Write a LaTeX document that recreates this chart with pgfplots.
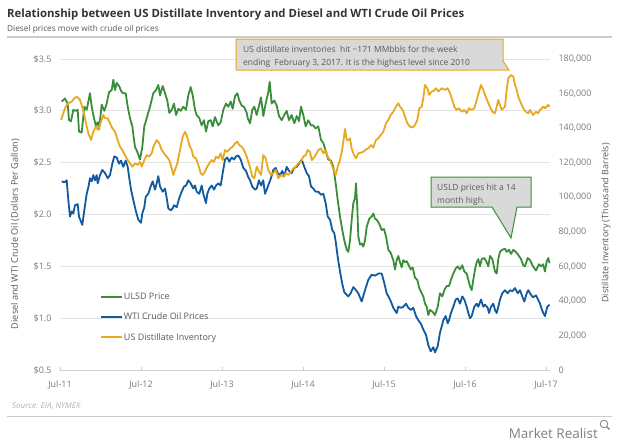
\documentclass[border=0pt]{standalone}
\usepackage{pgfplots}
\pgfplotsset{compat=1.18}
\usepackage{fontspec}
\setmainfont{Open Sans}
\definecolor{ulsd}{HTML}{3A8E3A}
\definecolor{wti}{HTML}{115AA0}
\definecolor{inv}{HTML}{E8A820}
\definecolor{boxgray}{HTML}{D9D9D9}
\definecolor{txtgray}{HTML}{595959}
\definecolor{tickgray}{HTML}{7A7A7A}
\definecolor{gridgray}{HTML}{E4E4E4}

\pgfplotstableread{
x y
61.7 3.09
65 3.12
67.7 3.07
69 2.91
71 2.90
73.3 3.01
75.7 3.00
77.7 3.01
79 2.80
81.7 2.79
84.3 3.04
86.7 3.01
90 3.17
91.7 3.04
93.3 2.96
95.7 2.86
97.7 2.89
99 2.82
101.7 3.06
104.3 3.00
106.7 3.07
109 3.18
111.7 3.20
113.3 3.30
115 3.20
116.7 3.27
119 3.24
121.7 3.18
123.3 3.17
125.7 3.17
127.7 3.04
130 2.93
132.3 2.85
135 2.65
136.7 2.62
140 2.53
142.3 2.65
144.3 2.85
146.7 2.93
150 3.04
153.3 3.17
156 3.20
158.3 3.25
160 3.15
162.7 3.24
165 3.17
167.3 3.10
169.3 2.98
171.7 3.01
174 3.07
176 2.96
178.3 3.02
180.7 3.00
183.3 3.04
186 3.01
188.3 3.15
190.7 3.23
192.7 3.15
195 3.01
196.7 2.96
199.3 2.93
201.7 2.86
204 2.91
206 2.80
208.3 2.90
210.7 2.91
212.7 2.85
215 2.94
218.3 2.86
220.7 2.89
223.3 3.01
226 3.07
228.3 3.04
230.7 3.09
232.7 3.02
235 3.14
237.3 3.17
239.3 3.10
241.7 3.05
244 3.04
246.7 2.98
247.7 2.93
250 2.88
252.3 3.01
254.3 3.04
256.7 2.96
259 3.05
261 3.13
263.3 2.95
265.7 3.07
268.3 3.18
269.7 3.28
271.7 3.07
274.3 3.10
276.7 3.05
279 2.95
281.7 2.91
284.3 2.96
286.7 3.00
289 2.91
291.7 2.96
294.3 2.88
296.7 2.95
299 2.90
301 3.04
303.3 2.96
305.7 2.85
308.3 2.91
311 2.86
313.3 2.86
315.7 2.83
318.3 2.85
321 2.72
323.3 2.69
325.7 2.61
328.3 2.53
331 2.52
333.3 2.46
335.7 2.30
337.7 2.14
340 1.98
342.3 1.85
344.3 1.75
346.7 1.66
348.3 1.64
350 1.75
351.7 1.95
353.3 2.11
355 2.16
356 2.30
357.3 2.07
358.3 1.79
360 1.71
361.7 1.72
363.3 1.69
365 1.75
366.7 1.88
369.3 1.96
371.7 1.98
373.3 2.01
375 1.96
376.7 1.95
379.3 1.91
381.7 1.85
384 1.86
386 1.79
388.3 1.66
390.7 1.63
393.3 1.56
395 1.47
396.7 1.56
398.3 1.60
400 1.54
401.7 1.49
403.3 1.56
405 1.54
406.7 1.55
409.3 1.50
410.7 1.47
412.7 1.49
415 1.39
417.3 1.37
419.3 1.29
421.7 1.24
423.3 1.21
425 1.14
426.7 1.11
428.3 1.03
430 1.08
432.7 1.06
435 1.03
437.7 1.11
440 1.24
442.3 1.21
444.3 1.27
446.7 1.31
449 1.31
451 1.37
453.3 1.43
455.7 1.48
457.7 1.50
460 1.47
462.3 1.51
464.3 1.45
466.7 1.43
468.3 1.37
470 1.31
471.7 1.27
473.3 1.37
475 1.47
476.7 1.54
478.3 1.57
480 1.50
481.7 1.57
484.3 1.58
486.7 1.54
488.3 1.50
490 1.60
492.3 1.57
495 1.45
496.7 1.43
498.3 1.57
500 1.64
502.3 1.66
505 1.67
506.7 1.64
509 1.66
511 1.62
513.3 1.66
515.7 1.64
518.3 1.61
521 1.57
523.3 1.51
525 1.50
527.7 1.58
530 1.56
533 1.50
536 1.46
539 1.52
541 1.50
543 1.52
545 1.45
546.7 1.55
548.3 1.58
549.5 1.53
}\ulsdtable

\pgfplotstableread{
x y
61.7 2.32
64.3 2.31
66.7 2.33
68.3 2.14
70 1.98
71.7 2.03
73.3 2.01
75 2.09
77.7 2.10
79 1.98
81 1.93
82.3 1.90
84.3 2.04
86.7 2.20
88.3 2.26
90 2.35
91.7 2.32
93.3 2.38
95 2.33
96.7 2.38
97.7 2.30
100 2.38
102.3 2.43
105 2.40
107.7 2.35
110 2.38
112.3 2.49
114.3 2.56
116.7 2.55
119 2.49
121 2.52
123.3 2.46
125.7 2.52
127.7 2.46
129 2.37
131 2.24
133.3 2.14
135.7 2.04
138.3 1.95
141 1.92
142.3 2.01
144.3 2.07
145.7 2.17
148.3 2.20
151 2.28
152.7 2.32
155 2.24
156.7 2.30
158.3 2.37
160 2.27
162.7 2.22
165 2.25
166.7 2.16
168.3 2.06
170.7 2.04
172.7 2.06
174 2.09
176.7 2.07
179.3 2.16
181.7 2.22
184 2.27
186 2.28
188.3 2.33
190.7 2.30
193.3 2.25
195 2.28
196.7 2.22
199.3 2.20
201.7 2.28
203.3 2.20
206 2.11
207.3 2.20
209.3 2.25
211.7 2.28
214 2.24
216 2.28
218.3 2.30
220.7 2.28
222.7 2.40
225 2.53
227.3 2.55
229.3 2.51
231.7 2.55
234 2.53
236 2.56
238.3 2.57
240.7 2.53
243.3 2.45
246 2.42
248.3 2.36
250 2.33
252.3 2.27
255 2.24
256.7 2.25
259 2.33
261 2.28
263.3 2.33
265 2.20
266.7 2.24
269 2.30
271 2.35
273.3 2.43
275.7 2.45
277.7 2.40
280 2.38
282.3 2.42
284.3 2.37
286.7 2.46
289 2.42
291.7 2.40
294.3 2.45
296.7 2.46
299 2.49
301.7 2.53
304.3 2.46
306.7 2.40
309 2.37
311 2.27
313.3 2.25
315.7 2.22
318.3 2.22
321 2.19
323.3 2.20
325.7 2.11
327.7 1.98
330 1.95
332.3 1.85
334.3 1.82
335.7 1.74
337.7 1.59
340 1.45
342.3 1.33
344.3 1.25
348.3 1.21
350.7 1.24
353.3 1.30
356 1.27
358.3 1.24
361.7 1.16
365 1.27
368.3 1.37
371.7 1.42
375 1.41
378.3 1.43
381.7 1.43
384 1.35
386.7 1.24
390 1.18
393.3 1.10
396.7 1.05
398.3 1.11
401 1.10
403.3 1.11
406 1.14
408.3 1.10
410.7 1.08
413.3 1.10
416 1.02
418.3 0.98
420.7 0.95
423.3 0.89
426 0.84
428.3 0.74
430.7 0.68
433.3 0.72
435 0.67
437.7 0.73
440 0.86
441.7 0.92
443.3 0.98
445.7 1.02
447.7 0.95
449 0.98
451 1.05
453.3 1.11
455.7 1.18
457.7 1.19
460 1.14
462.3 1.21
464.3 1.18
466.7 1.11
468.3 1.05
470 1.00
471.7 1.02
474.3 1.11
476.7 1.14
478.3 1.11
481 1.18
483.3 1.11
485 1.13
487.7 1.10
489 1.05
491 1.11
493.3 1.14
495 1.08
496.7 1.05
498.3 1.11
500 1.18
502.3 1.24
505 1.27
507.7 1.24
510 1.27
512.3 1.26
515 1.29
517.7 1.24
520 1.27
522.3 1.21
524.3 1.16
526.7 1.24
528.3 1.27
530 1.24
533 1.20
536 1.22
538 1.18
540 1.14
542 1.08
543.3 1.05
545 1.02
547.3 1.11
549.5 1.13
}\wtitable

\pgfplotstableread{
x y
61 144700
63.3 148600
65.7 152400
68.3 154400
71.7 155300
74.3 157300
76.7 158200
80 156300
83.3 150500
85.7 143700
88.3 137000
91 133100
93.3 137900
95.7 140800
98.3 139000
101 143700
103.3 147600
105 145700
107.7 145700
110 142800
112.3 140000
115 137900
117.7 133100
120 129200
122.3 127300
125 124400
127.7 121500
130 119600
132.3 117700
135 119600
137.7 118700
140 120500
141.7 117700
144.3 121500
146.7 124400
149 123500
151.7 125400
153.3 129000
156.7 133100
159.3 131200
161.7 127300
164 125400
166.7 123500
169.3 121500
171.7 116700
173.3 112900
175 115800
177.3 119600
180 127300
182.7 135000
185 137900
186.7 136000
189.3 130200
191.7 127300
193.3 123500
196 122500
198.3 118700
200.7 113900
202.7 112900
205 114800
207.3 117700
209.3 119600
211.7 121500
214 120500
216 123500
218.3 122500
220.7 125400
222.7 121500
225 127300
227.3 126300
230 128200
232.7 129200
235 131200
237.3 132100
239.3 130200
241.7 129200
244 127300
246.7 123500
249.3 118700
252.3 111900
254.3 111000
256.7 117700
259 114800
261 112900
263.3 124400
265.7 122500
268.3 115800
271 112900
273.3 113900
275.7 115800
278.3 111000
281 112900
283.3 111900
286 113900
288.3 112900
291 114800
293.3 116700
295.7 117700
298.3 119600
301 120500
303.3 123500
305.7 124400
307.7 127300
310 126300
311.7 121500
313.3 122500
315.7 124400
318.3 127300
321 128200
323.3 125400
325.7 127300
327.7 123500
330 121500
332.3 117700
334.3 114800
335.7 112900
337.7 117700
340 121500
341.7 126000
343.3 132000
345 139500
346.7 133100
348.3 133100
350 134100
351.7 128200
354 124400
356 122500
358.3 125400
361 125800
363.3 126300
366 127700
368.3 128200
371 130200
373.3 128800
376 133100
378.3 134100
380.7 136000
383.3 137900
386 142800
388.3 144700
390.7 147600
393.3 149500
396 152400
398.3 154400
400 152400
402.7 150500
405 146700
407.3 142800
410 140800
412.7 140400
415 141800
417.3 144700
419.3 151500
421.7 152400
423.3 157300
425 165000
427.3 163100
429.3 159200
431.7 161200
434 161700
436 163100
438.3 161200
441.7 163100
445 162100
447.7 163100
450 160200
452.3 156300
454.3 152400
456.7 150500
459 151500
461.7 149500
464.3 150500
466.7 148600
469 151500
471.7 150500
474.3 151500
476.7 156300
479 161100
481 165000
483.3 162100
485.7 158200
487.7 155300
490 152400
492.3 149500
495 148600
496.7 152400
498.3 156300
500 153400
501.7 150500
503.3 151500
505 152400
506.7 162100
508.3 168800
511 170700
513.3 169800
515 165000
516.7 162100
518.3 158200
521 154400
523.3 151500
525.7 149500
528.3 148600
530 150500
533 147600
536 149500
538 148600
540 150500
543.3 152400
545 151500
548.3 153400
549.5 152400
}\invtable

\begin{document}
\begin{tikzpicture}
\path[use as bounding box, fill=white] (0bp,0bp) rectangle (620bp,-443bp);

\begin{axis}[
  at={(60bp,-370bp)}, anchor=south west,
  scale only axis, width=490bp, height=311bp,
  xmin=60, xmax=550, ymin=0.5, ymax=3.5,
  axis x line*=bottom, axis y line*=left,
  x axis line style={draw=gridgray!80!gray, line width=0.8bp},
  y axis line style={draw=none},
  xtick={60,141,222,303,384,465,546},
  xticklabels={Jul-11,Jul-12,Jul-13,Jul-14,Jul-15,Jul-16,Jul-17},
  ytick={0.5,1,1.5,2,2.5,3,3.5},
  yticklabels={{\$0.5},{\$1.0},{\$1.5},{\$2.0},{\$2.5},{\$3.0},{\$3.5}},
  tick align=inside,
  xtick style={draw=gridgray!80!gray, line width=0.8bp},
  major tick length=3bp,
  ytick style={draw=none},
  ymajorgrids, grid style={draw=gridgray, line width=0.8bp},
  ticklabel style={font=\fontsize{9}{10}\selectfont, text=tickgray},
  yticklabel style={xshift=-5bp},
  xticklabel style={yshift=-7bp},
  clip=false,
]
\addplot[ulsd, line width=1.8bp, line join=round] table[x=x,y=y] {\ulsdtable};
\addplot[wti, line width=1.8bp, line join=round] table[x=x,y=y] {\wtitable};
\end{axis}

\begin{axis}[
  at={(60bp,-370bp)}, anchor=south west,
  scale only axis, width=490bp, height=311bp,
  xmin=60, xmax=550, ymin=0, ymax=180000,
  hide x axis,
  axis y line*=right,
  y axis line style={draw=none},
  scaled y ticks=false,
  ytick={0,20000,40000,60000,80000,100000,120000,140000,160000,180000},
  yticklabels={0,{20,000},{40,000},{60,000},{80,000},{100,000},{120,000},{140,000},{160,000},{180,000}},
  ytick style={draw=none},
  ticklabel style={font=\fontsize{9}{10}\selectfont, text=tickgray},
  yticklabel style={xshift=5bp},
  legend style={at={(0.0816,0.252)}, anchor=north west, draw=none, fill=none,
    font=\fontsize{9}{10}\selectfont, text=txtgray, row sep=10bp, inner sep=0pt,
    nodes={inner xsep=1bp, inner ysep=1bp}},
  legend cell align=left,
  legend image code/.code={\draw[#1, line width=1.8bp] (0bp,0bp) -- (21bp,0bp);},
]
\addlegendimage{ulsd, line width=1.8bp}
\addlegendentry{ULSD Price}
\addlegendimage{wti, line width=1.8bp}
\addlegendentry{WTI Crude Oil Prices}
\addlegendimage{inv, line width=1.8bp}
\addlegendentry{US Distillate Inventory}
\addplot[inv, line width=1.8bp, line join=round, forget plot] table[x=x,y=y] {\invtable};
\end{axis}

\begin{scope}[x=1bp, y=-1bp]
% title
\node[anchor=base west, inner sep=0pt, font=\fontsize{11.4}{13}\selectfont\bfseries, text=black!80] at (7,17) {Relationship between US Distillate Inventory and Diesel and WTI Crude Oil Prices};
\node[anchor=base west, inner sep=0pt, font=\fontsize{8.3}{10}\selectfont, text=txtgray] at (7,31) {Diesel prices move with crude oil prices};
\draw[black!20, line width=1.5bp] (7,37) -- (612,37);
% axis labels
\node[rotate=90, inner sep=0pt, font=\fontsize{9.2}{10}\selectfont, text=txtgray] at (15,234) {Diesel and WTI Crude Oil (Dollars Per Gallon)};
\node[rotate=90, inner sep=0pt, font=\fontsize{9}{10}\selectfont, text=txtgray] at (606,223) {Distillate Inventory (Thousand Barrels)};
% callout 1
\draw[fill=boxgray, draw=inv, line width=1bp] (236,39) -- (503,39) -- (503,61) -- (509,70) -- (236,70) -- cycle;
\node[anchor=base west, inner sep=0pt, font=\fontsize{8.5}{10}\selectfont, text=txtgray] at (243,52) {US distillate inventories\ \ hit \textasciitilde171 MMbbls for the week};
\node[anchor=base west, inner sep=0pt, font=\fontsize{8.5}{10}\selectfont, text=txtgray] at (243,65.5) {ending\ \ February 3, 2017. It is the highest level since 2010};
% callout 2
\draw[fill=boxgray, draw=ulsd, line width=1bp] (431,177) -- (531,177) -- (531,207) -- (517,207) -- (511,238) -- (492,207) -- (431,207) -- cycle;
\node[anchor=base west, inner sep=0pt, font=\fontsize{8.5}{10}\selectfont, text=txtgray] at (437,190) {USLD prices hit a 14};
\node[anchor=base west, inner sep=0pt, font=\fontsize{8.5}{10}\selectfont, text=txtgray] at (437,203) {month high.};
% source & footer
\node[anchor=base west, inner sep=0pt, font=\fontsize{8}{10}\selectfont\itshape, text=black!30] at (12,408) {Source: EIA, NYMEX};
\draw[black!20, line width=1bp] (7,416) -- (612,416);
\node[anchor=base east, inner sep=0pt, font=\fontsize{13.5}{15}\selectfont, text=black!50] at (598,438) {Market Realist};
\draw[black!50, line width=0.8bp] (604,424) circle (3.8);
\draw[black!50, line width=1.1bp] (606.8,426.8) -- (609.5,429.5);
\end{scope}
\end{tikzpicture}
\end{document}
